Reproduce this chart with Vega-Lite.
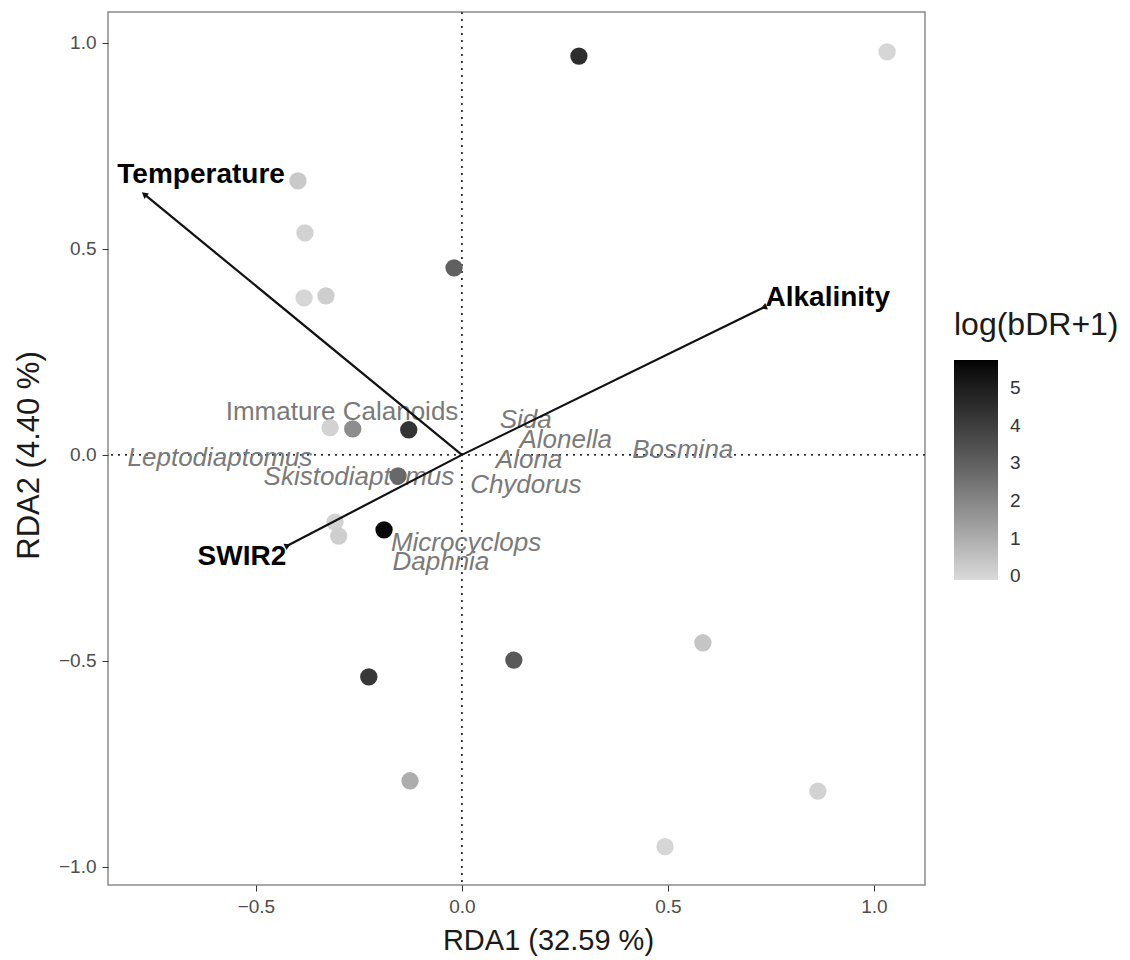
{
  "$schema": "https://vega.github.io/schema/vega-lite/v6.json",
  "width": 817,
  "height": 873,
  "autosize": {"type": "none"},
  "padding": {"left": 108, "top": 12, "right": 205, "bottom": 75},
  "background": "white",
  "config": {
    "font": "Liberation Sans",
    "view": {"stroke": "#8a8a8a", "strokeWidth": 1.5},
    "axis": {
      "domain": false, "grid": false, "tickColor": "#333333", "tickSize": 6, "tickWidth": 1,
      "labelColor": "#4d4d4d", "labelFontSize": 19, "labelPadding": 6,
      "titleFontSize": 29, "titleFontWeight": "normal", "titleColor": "#1a1a1a"
    }
  },
  "datasets": {
    "origin": [{"x": 0, "y": 0}],
    "sites": [
      {"x": 0.284, "y": 0.968, "v": 4.5},
      {"x": 1.032, "y": 0.978, "v": 0.0},
      {"x": -0.398, "y": 0.665, "v": 0.3},
      {"x": -0.381, "y": 0.539, "v": 0.1},
      {"x": -0.019, "y": 0.454, "v": 3.0},
      {"x": -0.383, "y": 0.381, "v": 0.0},
      {"x": -0.330, "y": 0.386, "v": 0.2},
      {"x": -0.320, "y": 0.066, "v": 0.1},
      {"x": -0.265, "y": 0.063, "v": 1.8},
      {"x": -0.129, "y": 0.061, "v": 4.3},
      {"x": -0.155, "y": -0.051, "v": 2.8},
      {"x": -0.308, "y": -0.163, "v": 0.1},
      {"x": -0.299, "y": -0.197, "v": 0.2},
      {"x": -0.189, "y": -0.182, "v": 5.6},
      {"x": -0.226, "y": -0.539, "v": 4.2},
      {"x": 0.126, "y": -0.498, "v": 3.2},
      {"x": -0.126, "y": -0.791, "v": 1.0},
      {"x": 0.585, "y": -0.456, "v": 0.4},
      {"x": 0.864, "y": -0.816, "v": 0.1},
      {"x": 0.493, "y": -0.951, "v": 0.0}
    ],
    "species": [
      {"sp": "Leptodiaptomus", "x": -0.587, "y": -0.007},
      {"sp": "Skistodiaptomus", "x": -0.250, "y": -0.053},
      {"sp": "Sida", "x": 0.155, "y": 0.085},
      {"sp": "Alonella", "x": 0.252, "y": 0.036},
      {"sp": "Bosmina", "x": 0.536, "y": 0.012},
      {"sp": "Alona", "x": 0.163, "y": -0.012},
      {"sp": "Chydorus", "x": 0.155, "y": -0.073},
      {"sp": "Microcyclops", "x": 0.010, "y": -0.214},
      {"sp": "Daphnia", "x": -0.051, "y": -0.260},
      {"sp": "Immature Calanoids", "x": -0.291, "y": 0.104}
    ],
    "env": [
      {"var": "Temperature", "x": -0.769, "y": 0.631},
      {"var": "Alkalinity", "x": 0.735, "y": 0.359},
      {"var": "SWIR2", "x": -0.425, "y": -0.221}
    ],
    "envlab": [
      {"var": "Temperature", "x": -0.633, "y": 0.680},
      {"var": "Alkalinity", "x": 0.888, "y": 0.381},
      {"var": "SWIR2", "x": -0.534, "y": -0.248}
    ]
  },
  "layer": [
    {
      "data": {"name": "origin"},
      "mark": {"type": "rule", "color": "#333333", "strokeWidth": 1.8, "strokeDash": [2, 5]},
      "encoding": {
        "x": {"field": "x", "type": "quantitative",
              "scale": {"domain": [-0.859, 1.124], "nice": false, "zero": false},
              "axis": {"values": [-0.5, 0, 0.5, 1.0], "format": ".1f", "title": "RDA1 (32.59 %)", "titlePadding": 10, "titleX": 440}}
      }
    },
    {
      "data": {"name": "origin"},
      "mark": {"type": "rule", "color": "#333333", "strokeWidth": 1.8, "strokeDash": [2, 5]},
      "encoding": {
        "y": {"field": "y", "type": "quantitative",
              "scale": {"domain": [-1.044, 1.075], "nice": false, "zero": false},
              "axis": {"values": [-1.0, -0.5, 0, 0.5, 1.0], "format": ".1f", "title": "RDA2 (4.40 %)", "titlePadding": 13, "titleFontSize": 31, "titleY": 443}}
      }
    },
    {
      "data": {"name": "species"},
      "transform": [{"filter": "datum.sp !== 'Immature Calanoids'"}],
      "mark": {"type": "text", "fontStyle": "italic", "fontSize": 26, "color": "#7a7a7a", "align": "center", "baseline": "middle"},
      "encoding": {
        "x": {"field": "x", "type": "quantitative", "axis": {"title": "RDA1 (32.59 %)"}},
        "y": {"field": "y", "type": "quantitative", "axis": {"title": "RDA2 (4.40 %)"}},
        "text": {"field": "sp"}
      }
    },
    {
      "data": {"name": "species"},
      "transform": [{"filter": "datum.sp === 'Immature Calanoids'"}],
      "mark": {"type": "text", "fontSize": 26, "color": "#7a7a7a", "align": "center", "baseline": "middle"},
      "encoding": {
        "x": {"field": "x", "type": "quantitative", "axis": {"title": "RDA1 (32.59 %)"}},
        "y": {"field": "y", "type": "quantitative", "axis": {"title": "RDA2 (4.40 %)"}},
        "text": {"field": "sp"}
      }
    },
    {
      "data": {"name": "sites"},
      "mark": {"type": "circle", "size": 300, "opacity": 1},
      "encoding": {
        "x": {"field": "x", "type": "quantitative", "axis": {"title": "RDA1 (32.59 %)"}},
        "y": {"field": "y", "type": "quantitative", "axis": {"title": "RDA2 (4.40 %)"}},
        "color": {
          "field": "v", "type": "quantitative",
          "scale": {"domain": [-0.1, 5.75], "range": ["#dadada", "#000000"], "interpolate": "lab"},
          "legend": {
            "title": "log(bDR+1)", "orient": "none", "legendX": 846, "legendY": 298,
            "gradientLength": 220, "gradientThickness": 44, "gradientStrokeWidth": 0,
            "titleFontSize": 32, "titleFontWeight": "normal", "titleColor": "#1a1a1a", "titlePadding": 18,
            "labelFontSize": 19, "labelColor": "#333333", "labelOffset": 12,
            "values": [0, 1, 2, 3, 4, 5], "format": "d"
          }
        }
      }
    },
    {
      "data": {"name": "env"},
      "mark": {"type": "rule", "color": "#111111", "strokeWidth": 2.2},
      "encoding": {
        "x": {"field": "x", "type": "quantitative", "axis": {"title": "RDA1 (32.59 %)"}},
        "y": {"field": "y", "type": "quantitative", "axis": {"title": "RDA2 (4.40 %)"}},
        "x2": {"datum": 0},
        "y2": {"datum": 0}
      }
    },
    {
      "data": {"name": "env"},
      "mark": {"type": "point", "shape": "triangle", "filled": true, "size": 50, "color": "#111111", "opacity": 1},
      "encoding": {
        "x": {"field": "x", "type": "quantitative", "axis": {"title": "RDA1 (32.59 %)"}},
        "y": {"field": "y", "type": "quantitative", "axis": {"title": "RDA2 (4.40 %)"}},
        "angle": {"field": "var", "type": "nominal",
                  "scale": {"domain": ["Temperature", "Alkalinity", "SWIR2"], "range": [-50.6, 64.0, -117.5]},
                  "legend": null}
      }
    },
    {
      "data": {"name": "envlab"},
      "mark": {"type": "text", "fontWeight": "bold", "fontSize": 28, "color": "#000000", "align": "center", "baseline": "middle"},
      "encoding": {
        "x": {"field": "x", "type": "quantitative", "axis": {"title": "RDA1 (32.59 %)"}},
        "y": {"field": "y", "type": "quantitative", "axis": {"title": "RDA2 (4.40 %)"}},
        "text": {"field": "var"}
      }
    }
  ]
}
